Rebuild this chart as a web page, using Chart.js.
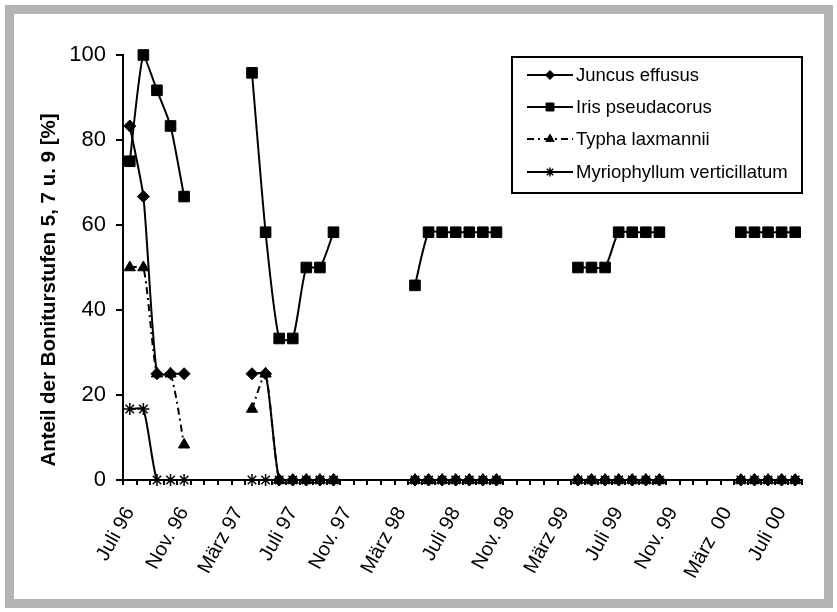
<!DOCTYPE html>
<html>
<head>
<meta charset="utf-8">
<script src="https://cdn.jsdelivr.net/npm/chart.js@4/dist/chart.umd.min.js"></script>
<style>
  html, body { margin: 0; padding: 0; background: #fff; }
  #wrap { position: relative; width: 837px; height: 612px; }
  #frame { position: absolute; left: 5px; top: 5px; width: 828px; height: 603px; box-sizing: border-box; border: 9px solid #b3b3b3; }
  canvas { position: absolute; left: 0; top: 0; }
</style>
</head>
<body>
<div id="wrap">
  <div id="frame"></div>
  <canvas id="c" width="837" height="612"></canvas>
</div>
<script>
const months = ['Juli 96','Aug. 96','Sept. 96','Okt. 96','Nov. 96','Dez. 96',
  'Jan. 97','Feb. 97','März 97','Apr. 97','Mai 97','Juni 97','Juli 97','Aug. 97','Sept. 97','Okt. 97','Nov. 97','Dez. 97',
  'Jan. 98','Feb. 98','März 98','Apr. 98','Mai 98','Juni 98','Juli 98','Aug. 98','Sept. 98','Okt. 98','Nov. 98','Dez. 98',
  'Jan. 99','Feb. 99','März 99','Apr. 99','Mai 99','Juni 99','Juli 99','Aug. 99','Sept. 99','Okt. 99','Nov. 99','Dez. 99',
  'Jan. 00','Feb. 00','März  00','Apr. 00','Mai 00','Juni 00','Juli 00','Aug. 00'];

const tickLabels = ['Juli 96','Nov. 96','März 97','Juli 97','Nov. 97','März 98','Juli 98',
  'Nov. 98','März 99','Juli 99','Nov. 99','März  00','Juli 00'];

const seriesNames = ['Juncus effusus','Iris pseudacorus','Typha laxmannii','Myriophyllum verticillatum'];

const juncus = [83.3,66.7,25,25,25, null,null,null,null, 25,25,0,0,0,0,0,
  null,null,null,null,null, 0,0,0,0,0,0,0, null,null,null,null,null, 0,0,0,0,0,0,0,
  null,null,null,null,null, 0,0,0,0,0];

const iris = [75,100,91.7,83.3,66.7, null,null,null,null, 95.8,58.3,33.3,33.3,50,50,58.3,
  null,null,null,null,null, 45.8,58.3,58.3,58.3,58.3,58.3,58.3, null,null,null,null,null, 50,50,50,58.3,58.3,58.3,58.3,
  null,null,null,null,null, 58.3,58.3,58.3,58.3,58.3];

const typha = [50,50,25,25,8.3, null,null,null,null, 16.7,25,0,0,0,0,0,
  null,null,null,null,null, 0,0,0,0,0,0,0, null,null,null,null,null, 0,0,0,0,0,0,0,
  null,null,null,null,null, 0,0,0,0,0];

const myrio = [16.7,16.7,0,0,0, null,null,null,null, 0,0,0,0,0,0,0,
  null,null,null,null,null, 0,0,0,0,0,0,0, null,null,null,null,null, 0,0,0,0,0,0,0,
  null,null,null,null,null, 0,0,0,0,0];

const yTicks = [0, 20, 40, 60, 80, 100];
const yTitle = 'Anteil der Boniturstufen 5, 7 u. 9 [%]';

const FONT = "'Liberation Sans', Arial, sans-serif";

function ds(label, data, style, radius, dash, order) {
  return {
    label, data,
    borderColor: '#000', backgroundColor: '#000',
    borderWidth: 2, borderDash: dash,
    pointStyle: style, pointRadius: radius, pointHoverRadius: radius,
    pointBackgroundColor: '#000', pointBorderColor: '#000', pointBorderWidth: style === 'star' ? 1.5 : 1,
    tension: 0.2, spanGaps: false, clip: false, order
  };
}

const legendPlugin = {
  id: 'boxLegend',
  afterDraw(chart) {
    const ctx = chart.ctx;
    const x0 = 512, y0 = 57, x1 = 802, y1 = 193;
    ctx.save();
    ctx.fillStyle = '#fff';
    ctx.fillRect(x0, y0, x1 - x0, y1 - y0);
    ctx.lineWidth = 2;
    ctx.strokeStyle = '#000';
    ctx.setLineDash([]);
    ctx.strokeRect(x0, y0, x1 - x0, y1 - y0);
    const rows = [75, 107, 139, 172];
    chart.data.datasets.forEach((d, i) => {
      const y = rows[i];
      ctx.save();
      ctx.strokeStyle = '#000';
      ctx.lineWidth = 2;
      ctx.setLineDash(d.borderDash || []);
      ctx.beginPath();
      ctx.moveTo(527, y);
      ctx.lineTo(573, y);
      ctx.stroke();
      ctx.restore();
      ctx.save();
      ctx.fillStyle = '#000';
      ctx.strokeStyle = '#000';
      ctx.lineWidth = d.pointBorderWidth;
      Chart.helpers.drawPoint(ctx, {pointStyle: d.pointStyle, radius: d.pointRadius * 0.75, rotation: 0, borderWidth: d.pointBorderWidth}, 550, y);
      ctx.restore();
      ctx.fillStyle = '#000';
      ctx.font = '18.5px ' + FONT;
      ctx.textAlign = 'left';
      ctx.textBaseline = 'middle';
      ctx.fillText(d.label, 576, y + 1);
    });
    ctx.restore();
  }
};

const titlePlugin = {
  id: 'yTitle',
  afterDraw(chart) {
    const ctx = chart.ctx;
    ctx.save();
    ctx.translate(55, 290);
    ctx.rotate(-Math.PI / 2);
    ctx.fillStyle = '#000';
    ctx.font = 'bold 20.5px ' + FONT;
    ctx.textAlign = 'center';
    ctx.textBaseline = 'alphabetic';
    ctx.fillText(yTitle, 0, 0);
    ctx.restore();
  }
};

new Chart(document.getElementById('c'), {
  type: 'line',
  data: {
    labels: months,
    datasets: [
      ds(seriesNames[0], juncus, 'rectRot', 6, [], 4),
      ds(seriesNames[1], iris, 'rect', 7.5, [], 3),
      ds(seriesNames[2], typha, 'triangle', 6.5, [7, 4, 2, 4], 2),
      ds(seriesNames[3], myrio, 'star', 6, [], 1)
    ]
  },
  options: {
    responsive: false,
    animation: false,
    devicePixelRatio: 1,
    layout: { padding: { left: 0, right: 35, top: 55, bottom: 0 } },
    plugins: { legend: { display: false }, tooltip: { enabled: false } },
    scales: {
      x: {
        type: 'category',
        offset: true,
        grid: { display: true, drawOnChartArea: false, drawTicks: true, tickLength: 5, color: '#000', lineWidth: 2, offset: true },
        border: { display: true, color: '#000', width: 2 },
        ticks: {
          autoSkip: false, minRotation: 61, maxRotation: 61, padding: 18,
          color: '#000', font: { family: FONT, size: 20 },
          callback: function(v, i) { const l = months[i]; return tickLabels.includes(l) ? l : ''; }
        },
        afterFit: s => { s.height = 612 - 480; }
      },
      y: {
        min: 0, max: 100,
        afterBuildTicks: s => { s.ticks = yTicks.map(v => ({ value: v })); },
        grid: { display: true, drawOnChartArea: false, drawTicks: true, tickLength: 7, color: '#000', lineWidth: 2 },
        border: { display: true, color: '#000', width: 2 },
        ticks: { padding: 10, color: '#000', font: { family: FONT, size: 22 } },
        afterFit: s => { s.width = 123; }
      }
    }
  },
  plugins: [legendPlugin, titlePlugin]
});
</script>
</body>
</html>
